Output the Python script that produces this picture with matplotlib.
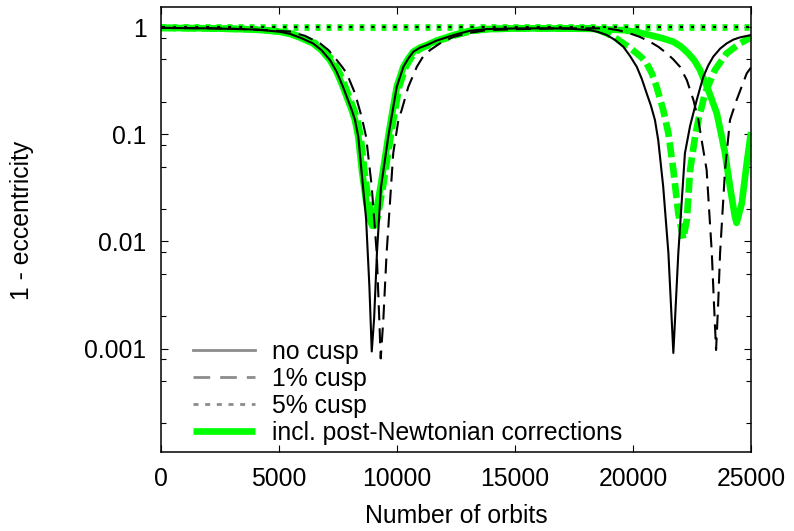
import matplotlib
matplotlib.use("Agg")
import matplotlib.pyplot as plt
from matplotlib.lines import Line2D
from matplotlib.ticker import FixedLocator, NullLocator

plt.rcParams["font.family"] = ["Liberation Sans", "DejaVu Sans"]
plt.rcParams["font.size"] = 17.8

# no cusp (black solid)
nc_x = [0, 2080, 3770, 4400, 5040, 5470, 5890, 6440, 6800, 7160,
        7440, 7710, 8080, 8220, 8360, 8520, 8690, 8830, 8930, 9030,
        9150, 9320, 9630, 9780, 9990, 10270, 10480, 10690, 10980, 11260,
        11680, 12000, 12390, 13090, 13800, 15210, 16610, 17400, 18180, 18540,
        18890, 19240, 19590, 19870, 20160, 20370, 20580, 20760, 20930, 21070,
        21280, 21500, 21640, 21710, 21780, 21920, 22060, 22200, 22420, 22700,
        22980, 23190, 23400, 23690, 23970, 24250, 24530, 25000]
nc_y = [0.985, 0.975, 0.954, 0.935, 0.906, 0.865, 0.80, 0.706, 0.61, 0.493,
        0.385, 0.278, 0.169, 0.136, 0.095, 0.040, 0.0163, 0.0038, 0.00094, 0.0019,
        0.0078, 0.032, 0.095, 0.15, 0.278, 0.427, 0.51, 0.59, 0.645, 0.68,
        0.75, 0.79, 0.844, 0.926, 0.960, 0.975, 0.975, 0.965, 0.939, 0.90,
        0.844, 0.76, 0.656, 0.54, 0.427, 0.33, 0.241, 0.185, 0.136, 0.088,
        0.0324, 0.0078, 0.00185, 0.00091, 0.00185, 0.0078, 0.0227, 0.0665, 0.12, 0.209,
        0.345, 0.44, 0.530, 0.63, 0.706, 0.765, 0.803, 0.844]

# 1% cusp (black dashed)
c1_x = [0, 2080, 3770, 5470, 6100, 6740, 7100, 7450, 7660, 7870,
        8220, 8500, 8690, 8930, 9140, 9250, 9310, 9420, 9560, 9700,
        9840, 10060, 10200, 10480, 10840, 11100, 11400, 11820, 12390, 13090,
        13800, 15210, 16910, 18890, 19400, 19870, 20300, 20720, 21080, 21430,
        21710, 21990, 22280, 22560, 22770, 22910, 23120, 23340, 23430, 23520,
        23610, 23690, 23900, 24110, 24390, 24820, 25000]
c1_y = [0.985, 0.977, 0.958, 0.91, 0.83, 0.706, 0.61, 0.493, 0.43, 0.371,
        0.241, 0.146, 0.095, 0.0324, 0.0078, 0.00185, 0.00081, 0.00185, 0.0078, 0.0227,
        0.0665, 0.136, 0.169, 0.278, 0.427, 0.53, 0.611, 0.706, 0.813, 0.887,
        0.939, 0.96, 0.975, 0.975, 0.935, 0.875, 0.81, 0.731, 0.655, 0.570,
        0.50, 0.427, 0.321, 0.209, 0.136, 0.088, 0.0465, 0.0078, 0.00265, 0.00097,
        0.00265, 0.0078, 0.0465, 0.136, 0.209, 0.371, 0.42]

# 5% cusp (dotted, black and green)
c5_x = [0, 5000, 10000, 15000, 20000, 25000]
c5_y = [1.0, 1.0, 1.0, 1.0, 1.0, 1.0]

# post-Newtonian, no cusp (green solid)
pn_x = [0, 2080, 3770, 4400, 5040, 5470, 5890, 6440, 6800, 7160,
        7440, 7710, 8080, 8220, 8360, 8520, 8690, 8830, 8950, 9070,
        9200, 9320, 9630, 9780, 9990, 10270, 10480, 10690, 10980, 11260,
        11680, 12000, 12390, 13090, 13800, 15210, 16060, 18180, 19590, 20160,
        20720, 21230, 21710, 22030, 22340, 22600, 22840, 23190, 23550, 23760,
        23900, 24110, 24320, 24390, 24610, 24820, 25000]
pn_y = [0.985, 0.975, 0.954, 0.935, 0.906, 0.865, 0.80, 0.706, 0.61, 0.493,
        0.385, 0.278, 0.169, 0.136, 0.095, 0.045, 0.024, 0.0165, 0.0140, 0.0165,
        0.024, 0.034, 0.095, 0.15, 0.278, 0.427, 0.51, 0.59, 0.645, 0.68,
        0.75, 0.79, 0.844, 0.926, 0.960, 0.975, 0.975, 0.965, 0.939, 0.90,
        0.844, 0.79, 0.731, 0.66, 0.57, 0.49, 0.398, 0.259, 0.157, 0.095,
        0.0665, 0.0324, 0.0170, 0.0149, 0.0227, 0.0537, 0.105]

# post-Newtonian, 1% cusp (green dashed)
pd_x = [0, 2080, 3770, 4500, 5140, 5570, 5990, 6540, 6900, 7260,
        7540, 7810, 8180, 8320, 8460, 8620, 8790, 8930, 9050, 9170,
        9300, 9420, 9730, 9880, 10090, 10370, 10580, 10790, 11080, 11360,
        11780, 12100, 12490, 13190, 13900, 15210, 16060, 18180, 18540, 18890,
        19240, 19590, 19870, 20160, 20370, 20580, 20800, 21000, 21280, 21500,
        21710, 21920, 22130, 22280, 22420, 22630, 22770, 23050, 23470, 23970,
        24530, 24930, 25000]
pd_y = [0.985, 0.975, 0.956, 0.935, 0.906, 0.865, 0.80, 0.706, 0.61, 0.493,
        0.385, 0.278, 0.169, 0.136, 0.095, 0.045, 0.024, 0.0165, 0.0140, 0.0165,
        0.024, 0.034, 0.095, 0.15, 0.278, 0.427, 0.51, 0.59, 0.645, 0.68,
        0.75, 0.79, 0.844, 0.926, 0.960, 0.975, 0.975, 0.975, 0.94, 0.875,
        0.80, 0.706, 0.64, 0.570, 0.52, 0.459, 0.37, 0.278, 0.169, 0.102,
        0.0465, 0.0183, 0.0106, 0.0159, 0.0465, 0.095, 0.136, 0.241, 0.398, 0.570,
        0.706, 0.787, 0.79]

xtick_vals = [0, 5000, 10000, 15000, 20000, 25000]
ytick_vals = [0.001, 0.01, 0.1, 1]
ytick_labels = ["0.001", "0.01", "0.1", "1"]
legend_labels = ["no cusp", "1% cusp", "5% cusp", "incl. post-Newtonian corrections"]

GREEN = "#00ff00"
GRAY = "#8c8c8c"

fig = plt.figure(figsize=(7.94, 5.31), dpi=100)
ax = fig.add_axes([161 / 794, 1 - 451.7 / 531, 590 / 794, 444.3 / 531])

# green (PN) curves go underneath the black ones
ax.plot(pn_x, pn_y, color=GREEN, lw=4.8, solid_capstyle="butt", zorder=2)
ax.plot(pd_x, pd_y, color=GREEN, lw=4.8, linestyle=(0, (2.25, 0.83)), zorder=2)
ax.plot(c5_x, c5_y, color=GREEN, lw=4.8, linestyle=(0, (0.75, 0.9)), zorder=2)

ax.plot(nc_x, nc_y, color="black", lw=1.5, zorder=3)
ax.plot(c1_x, c1_y, color="black", lw=1.5, linestyle=(0, (7.2, 3.85)), zorder=3)
ax.plot(c5_x, c5_y, color="black", lw=1.5, linestyle=(4.8, (1.44, 3.85)), zorder=3)

ax.set_yscale("log")
ax.set_xlim(0, 25000)
ax.set_ylim(1.09e-4, 1.53)

ax.xaxis.set_major_locator(FixedLocator(xtick_vals))
ax.set_xticklabels([str(v) for v in xtick_vals])
ax.xaxis.set_minor_locator(NullLocator())
ax.yaxis.set_major_locator(FixedLocator(ytick_vals))
ax.set_yticklabels(ytick_labels)
minor = [m * d for d in [1e-4, 1e-3, 1e-2, 1e-1] for m in (2, 5, 8)]
ax.yaxis.set_minor_locator(FixedLocator(minor))
ax.yaxis.set_minor_formatter(plt.NullFormatter())

ax.tick_params(which="both", direction="in", top=True, right=True, width=0.8)
ax.tick_params(which="major", length=5)
ax.tick_params(which="minor", length=3.3)
ax.tick_params(axis="x", pad=11)
ax.tick_params(axis="y", pad=10.5)
for s in ax.spines.values():
    s.set_linewidth(1.1)

fig.text(456 / 794, 1 - 516 / 531, "Number of orbits", ha="center", va="center")
fig.text(22 / 794, 1 - 220 / 531, "1 - eccentricity", ha="center", va="center",
         rotation=90)

handles = [
    Line2D([], [], color=GRAY, lw=2),
    Line2D([], [], color=GRAY, lw=2, linestyle=(0, (6, 3.6))),
    Line2D([], [], color=GRAY, lw=2, linestyle=(0, (1.8, 2.4))),
    Line2D([], [], color=GREEN, lw=4.8, solid_capstyle="butt"),
]
ax.legend(handles, legend_labels, loc="center left", bbox_to_anchor=(0.0542, 0.1335),
          frameon=False, borderpad=0, borderaxespad=0, handlelength=2.5,
          handletextpad=0.68, labelspacing=0.12, fontsize=17.8)

fig.savefig("out.png", dpi=100)
